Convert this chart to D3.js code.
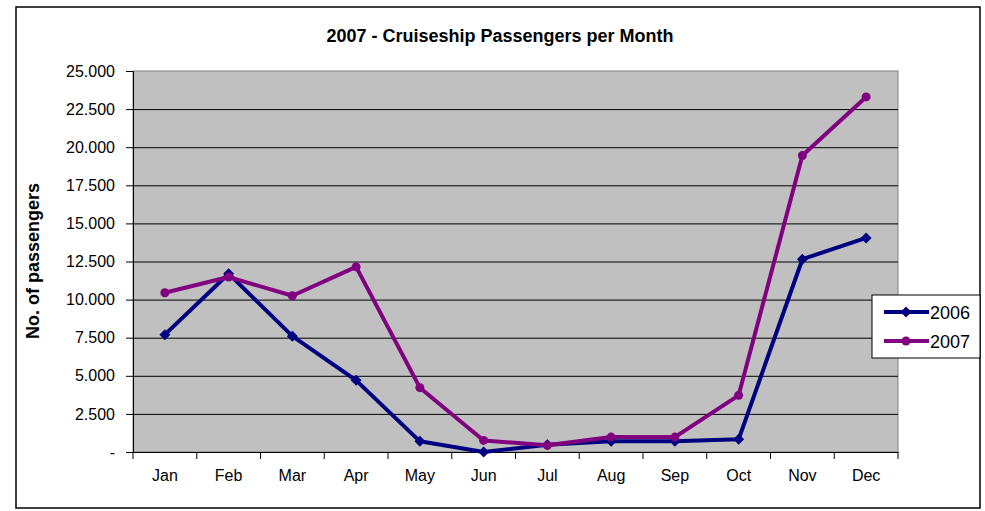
<!DOCTYPE html>
<html>
<head>
<meta charset="utf-8">
<script src="https://cdn.jsdelivr.net/npm/d3@7"></script>
<style>
  html, body { margin: 0; padding: 0; background: #fff; }
  svg { display: block; font-family: "Liberation Sans", Arial, sans-serif; }
</style>
</head>
<body>
<svg id="chart" width="985" height="511"></svg>
<script>
// Monthly cruiseship passengers
const months = ["Jan", "Feb", "Mar", "Apr", "May", "Jun", "Jul", "Aug", "Sep", "Oct", "Nov", "Dec"];
const passengers2006 = [7700, 11700, 7600, 4700, 700, 0, 480, 700, 700, 830, 12650, 14050];
const passengers2007 = [10450, 11480, 10250, 12150, 4220, 760, 440, 980, 980, 3720, 19450, 23300];
const yTicks = [0, 2500, 5000, 7500, 10000, 12500, 15000, 17500, 20000, 22500, 25000];
const seriesNames = ["2006", "2007"];
const seriesColors = ["#000080", "#800080"];

const svg = d3.select("#chart");
const plot = { left: 133, top: 71, right: 898, bottom: 452 };
const FONT = "Liberation Sans, Arial, sans-serif";

// Outer chart frame
svg.append("rect")
  .attr("x", 16).attr("y", 7).attr("width", 964).attr("height", 501)
  .attr("fill", "#fff").attr("stroke", "#000").attr("stroke-width", 1.5);

// Title
svg.append("text")
  .attr("x", 500).attr("y", 42)
  .attr("text-anchor", "middle")
  .attr("font-size", 18).attr("font-weight", "bold")
  .text("2007 - Cruiseship Passengers per Month");

const x = d3.scaleBand().domain(months).range([plot.left, plot.right]);
const y = d3.scaleLinear().domain([0, 25000]).range([plot.bottom, plot.top]);

// Plot area
svg.append("rect")
  .attr("x", plot.left).attr("y", plot.top)
  .attr("width", plot.right - plot.left).attr("height", plot.bottom - plot.top)
  .attr("fill", "#c0c0c0").attr("stroke", "#808080").attr("stroke-width", 1);

// Horizontal gridlines
svg.append("g").selectAll("line")
  .data(yTicks.filter(d => d > 0 && d < 25000))
  .join("line")
  .attr("x1", plot.left).attr("x2", plot.right)
  .attr("y1", d => y(d) + 0.5).attr("y2", d => y(d) + 0.5)
  .attr("stroke", "#000").attr("stroke-width", 1);

// Y axis
const fmt = d => d === 0 ? "-" : d3.format(",.3f")(d / 1000).replace(",", "");
const yAxis = svg.append("g")
  .attr("transform", `translate(${plot.left},0)`)
  .call(d3.axisLeft(y).tickValues(yTicks).tickSize(7).tickPadding(11).tickFormat(fmt));
yAxis.select(".domain").attr("stroke", "#000");
yAxis.selectAll(".tick line").attr("stroke", "#000");
yAxis.selectAll("text").attr("font-size", 16).attr("fill", "#000").attr("font-family", FONT);

// X axis with ticks on category boundaries
const xAxis = svg.append("g")
  .attr("transform", `translate(0,${plot.bottom})`)
  .call(d3.axisBottom(x).tickSize(0).tickPadding(17));
xAxis.select(".domain").attr("stroke", "#000");
xAxis.selectAll("text")
  .attr("font-size", 16).attr("fill", "#000").attr("font-family", FONT)
  .attr("dy", null).attr("y", 29);
xAxis.selectAll("line.boundary")
  .data(d3.range(months.length + 1))
  .join("line")
  .attr("class", "boundary")
  .attr("x1", i => plot.left + i * x.step()).attr("x2", i => plot.left + i * x.step())
  .attr("y1", 0).attr("y2", 7)
  .attr("stroke", "#000");

// Y axis title
svg.append("text")
  .attr("transform", "translate(39,261) rotate(-90)")
  .attr("text-anchor", "middle")
  .attr("font-size", 18).attr("font-weight", "bold")
  .text("No. of passengers");

// Series lines and markers
const cx = m => x(m) + x.bandwidth() / 2;
const line = d3.line().x((d, i) => cx(months[i])).y(d => y(d));
const diamondPath = "M0,-5.5L5.5,0L0,5.5L-5.5,0Z";

[passengers2006, passengers2007].forEach((vals, s) => {
  const g = svg.append("g");
  g.append("path")
    .datum(vals)
    .attr("d", line)
    .attr("fill", "none")
    .attr("stroke", seriesColors[s])
    .attr("stroke-width", 4)
    .attr("stroke-linejoin", "round");
  if (s === 0) {
    g.selectAll("path.mk").data(vals).join("path")
      .attr("class", "mk")
      .attr("d", diamondPath)
      .attr("transform", (d, i) => `translate(${cx(months[i])},${y(d)})`)
      .attr("fill", seriesColors[s]);
  } else {
    g.selectAll("circle").data(vals).join("circle")
      .attr("cx", (d, i) => cx(months[i])).attr("cy", d => y(d))
      .attr("r", 4.5)
      .attr("fill", seriesColors[s]);
  }
});

// Legend
const legend = svg.append("g");
legend.append("rect")
  .attr("x", 872).attr("y", 295).attr("width", 108).attr("height", 63)
  .attr("fill", "#fff").attr("stroke", "#000").attr("stroke-width", 1);
seriesNames.forEach((name, i) => {
  const ly = 312 + i * 29;
  legend.append("line")
    .attr("x1", 884).attr("x2", 929).attr("y1", ly).attr("y2", ly)
    .attr("stroke", seriesColors[i]).attr("stroke-width", 4);
  if (i === 0) {
    legend.append("path").attr("d", diamondPath)
      .attr("transform", `translate(906,${ly})`).attr("fill", seriesColors[i]);
  } else {
    legend.append("circle").attr("cx", 906).attr("cy", ly).attr("r", 4.5)
      .attr("fill", seriesColors[i]);
  }
  legend.append("text")
    .attr("x", 930).attr("y", ly + 6.5)
    .attr("font-size", 18)
    .text(name);
});
</script>
</body>
</html>
